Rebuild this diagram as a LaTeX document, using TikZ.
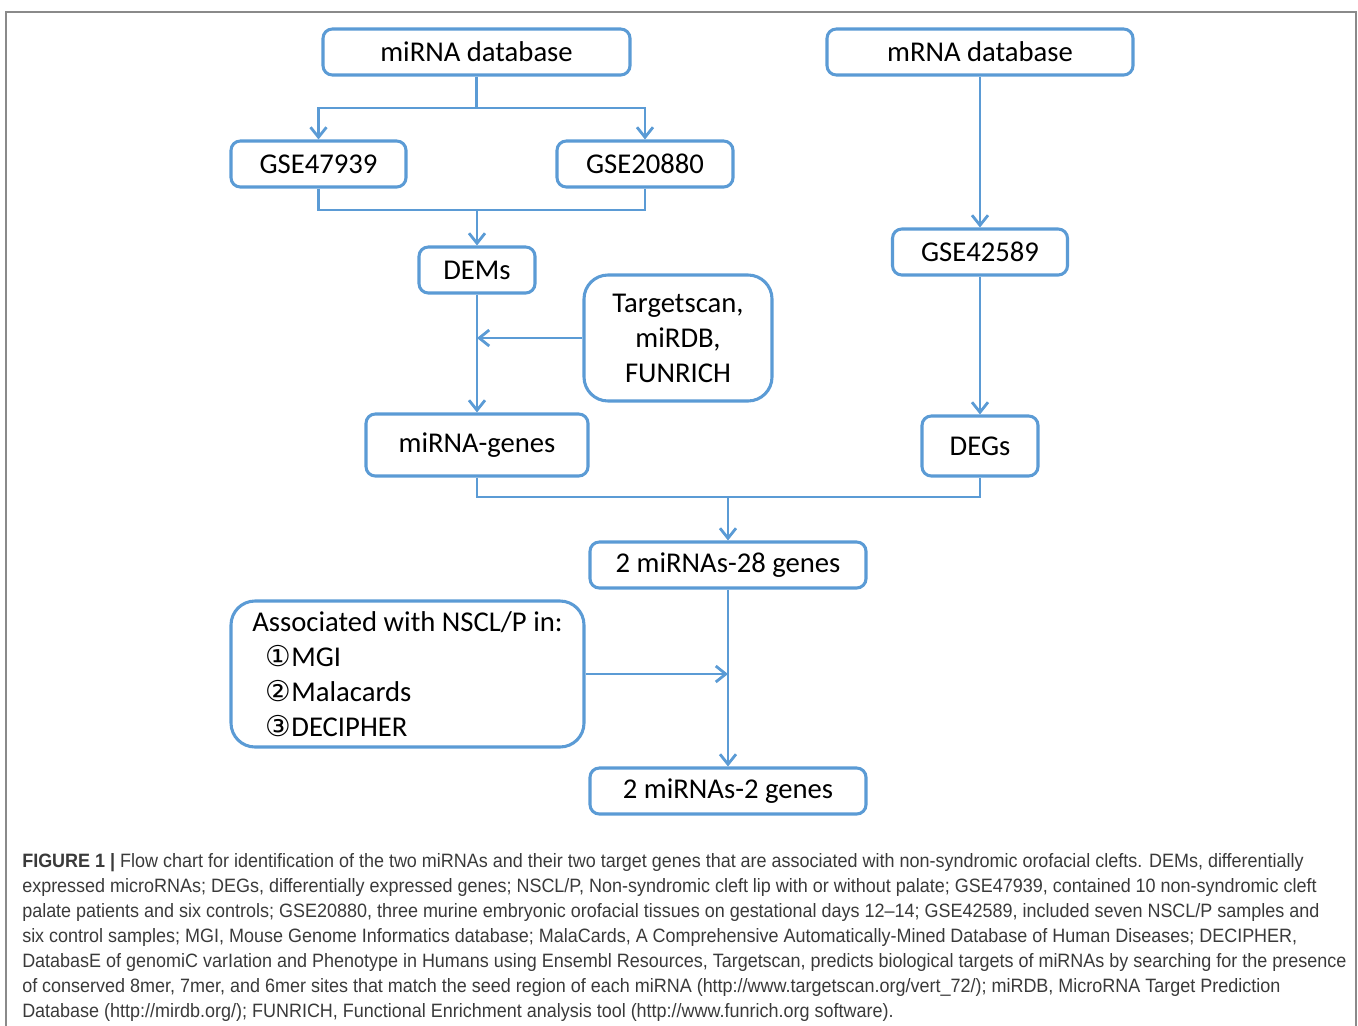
\documentclass[tikz,border=0pt]{standalone}
\usepackage{fontspec}
\setmainfont{Carlito}
\newfontfamily\capfont[FakeStretch=0.93]{Liberation Sans}
\newfontfamily\symfont{DejaVu Sans}
\usetikzlibrary{arrows.meta}
\definecolor{bl}{HTML}{5B9BD5}
\definecolor{capgray}{HTML}{3A3A3A}
\definecolor{framegray}{HTML}{8A8A8A}
\begin{document}
\begin{tikzpicture}[x=0.75pt,y=-0.75pt,
  box/.style={draw=bl, line width=2.3pt, rounded corners=7pt, fill=white, inner sep=0pt,
    font=\fontsize{21.5}{26.25}\selectfont, align=center},
  bigbox/.style={box, rounded corners=18pt},
  conn/.style={draw=bl, line width=2.1pt},
  arr/.style={conn, -{Straight Barb[length=7.5pt,width=12pt]}},
  captext/.style={anchor=base west, inner sep=0pt, font=\capfont\fontsize{14.5}{17}\selectfont, text=capgray}]
\useasboundingbox (0,0) rectangle (1358,1025);
% outer frame
\draw[framegray, line width=1.5pt] (6,1026) -- (6,12) -- (1356,12) -- (1356,1026);

% nodes
\node[box, minimum width=230.25pt, minimum height=34.5pt] (mirdb) at (476.5,52) {miRNA database};
\node[box, minimum width=229.5pt, minimum height=34.5pt] (mrdb) at (980,52) {mRNA database};
\node[box, minimum width=131.25pt, minimum height=34.5pt] (gse1) at (318.5,164) {GSE47939};
\node[box, minimum width=132pt, minimum height=34.5pt] (gse2) at (645,164) {GSE20880};
\node[box, minimum width=87pt, minimum height=34.5pt] (dems) at (477,270) {DEMs};
\node[bigbox, minimum width=141pt, minimum height=94.5pt] (ts) at (678,338) {Targetscan,\\miRDB,\\FUNRICH};
\node[box, minimum width=166.5pt, minimum height=46.5pt] (mg) at (477,445) {miRNA-genes};
\node[box, minimum width=131.25pt, minimum height=34.5pt] (gse3) at (980,252) {GSE42589};
\node[box, minimum width=87pt, minimum height=45pt] (degs) at (980,446) {DEGs};
\node[box, minimum width=207pt, minimum height=34.5pt] (g28) at (728,565) {2 miRNAs-28 genes};
\node[bigbox, minimum width=264.75pt, minimum height=109.5pt, align=left] (assoc) at (407.5,674)
  {Associated with NSCL/P in:\\
   \hspace*{10pt}{\symfont ①}MGI\\
   \hspace*{10pt}{\symfont ②}Malacards\\
   \hspace*{10pt}{\symfont ③}DECIPHER};
\node[box, minimum width=207pt, minimum height=34.5pt] (g2) at (728,791) {2 miRNAs-2 genes};

% junctions
\coordinate (j1) at (476.5,108);
\coordinate (j2) at (477,210);
\coordinate (j3) at (728,497);

% connectors
\draw[arr] (mirdb.south) -- (j1) -| (gse1.north);
\draw[arr] (j1) -| (gse2.north);
\draw[conn] (gse1.south) |- (j2) -| (gse2.south);
\draw[arr] (j2) -- (dems.north);
\draw[arr] (dems.south) -- (mg.north);
\draw[arr] (ts.west) -- (ts.west -| dems.south);
\draw[arr] (mrdb.south) -- (gse3.north);
\draw[arr] (gse3.south) -- (degs.north);
\draw[conn] (mg.south) |- (j3) -| (degs.south);
\draw[arr] (j3) -- (g28.north);
\draw[arr] (g28.south) -- (g2.north);
\draw[arr] (assoc.east) -- (assoc.east -| g28.south);

% caption
\node[captext] (cap1) at (22,867) {\textbf{FIGURE 1 |} Flow chart for identification of the two miRNAs and their two target genes that are associated with non-syndromic orofacial clefts. DEMs, differentially};
\node[captext] (cap2) at (22,892) {expressed microRNAs; DEGs, differentially expressed genes; NSCL/P, Non-syndromic cleft lip with or without palate; GSE47939, contained 10 non-syndromic cleft};
\node[captext] (cap3) at (22,917) {palate patients and six controls; GSE20880, three murine embryonic orofacial tissues on gestational days 12–14; GSE42589, included seven NSCL/P samples and};
\node[captext] (cap4) at (22,942) {six control samples; MGI, Mouse Genome Informatics database; MalaCards, A Comprehensive Automatically-Mined Database of Human Diseases; DECIPHER,};
\node[captext] (cap5) at (22,967) {DatabasE of genomiC varIation and Phenotype in Humans using Ensembl Resources, Targetscan, predicts biological targets of miRNAs by searching for the presence};
\node[captext] (cap6) at (22,992) {of conserved 8mer, 7mer, and 6mer sites that match the seed region of each miRNA (http://www.targetscan.org/vert\_72/); miRDB, MicroRNA Target Prediction};
\node[captext] (cap7) at (22,1017) {Database (http://mirdb.org/); FUNRICH, Functional Enrichment analysis tool (http://www.funrich.org software).};
\end{tikzpicture}
\end{document}
